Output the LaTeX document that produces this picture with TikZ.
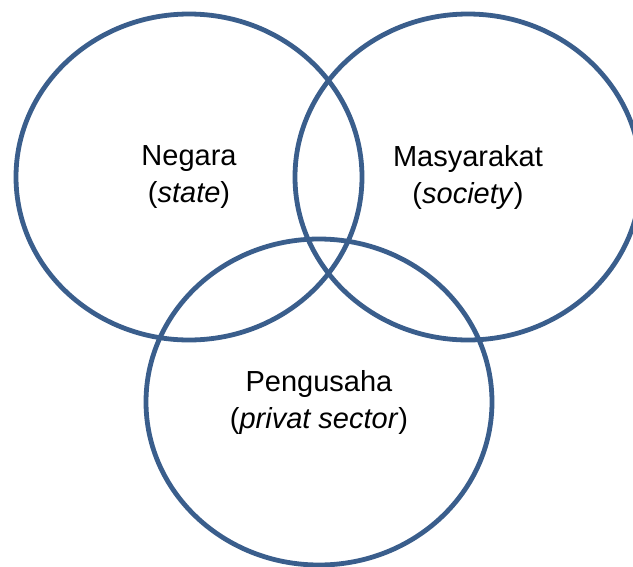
\documentclass[tikz,border=0pt]{standalone}
\usepackage{fontspec}
\setmainfont{Liberation Sans}
\usetikzlibrary{shapes.geometric}
\definecolor{ringblue}{HTML}{3A5E8C}
\tikzset{
x=1pt, y=1pt, % one unit is one pixel of the reference
every node/.style={font=\fontsize{29}{37}\selectfont, align=center},
ring/.style={ellipse, draw=ringblue, line width=4.8pt, minimum width=346pt, minimum height=326pt, inner sep=0pt}, % the three overlapping sets
}

\begin{document}
\begin{tikzpicture}
    \useasboundingbox (0,0) rectangle (633,-566);

    \node[ring] (negara) at (189,-177) {Negara\\(\textit{state})};
    \node[ring] (masyarakat) at (468,-177) {Masyarakat\\(\textit{society})};
    \node[ring] (pengusaha) at (319,-402) {Pengusaha\\(\textit{privat sector})};
\end{tikzpicture}
\end{document}
